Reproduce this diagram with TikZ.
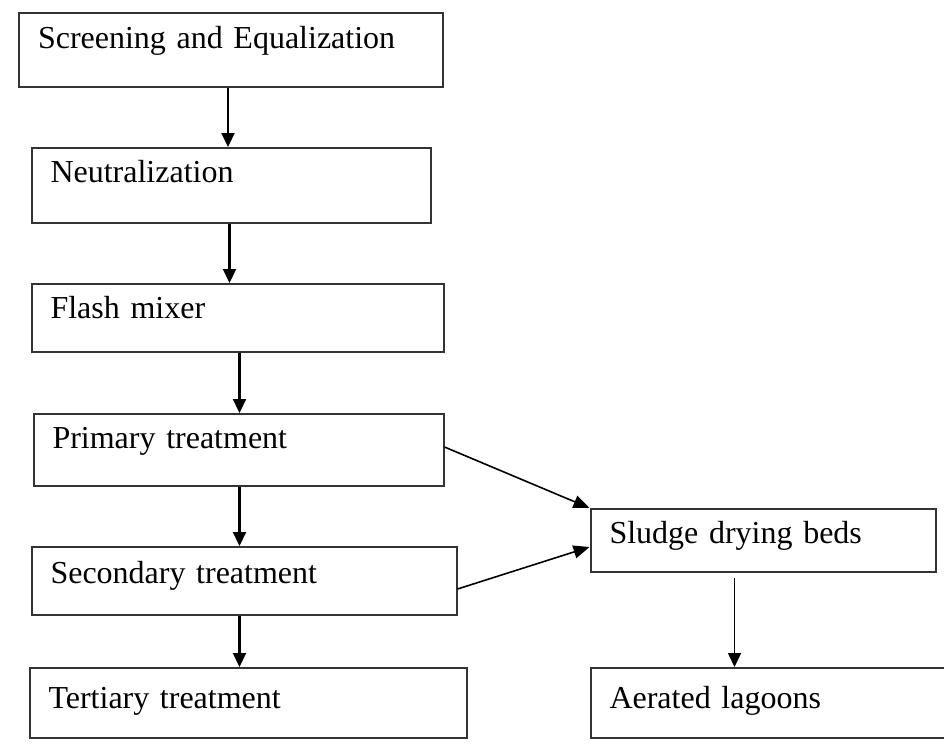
\documentclass[tikz,border=0pt]{standalone}
\usepackage{fontspec}
\setmainfont{Liberation Serif}
\usetikzlibrary{positioning,arrows.meta}
\newcommand{\stagefont}{\fontsize{32}{36}\selectfont\spaceskip=4.5pt\relax}
\tikzset{
  stage/.style={
    draw=black!80,
    line width=2pt,
    rectangle,
    align=left,
    inner xsep=19pt,
    inner ysep=0pt,
    font=\stagefont
  },
  flow/.style={
    line width=2.2pt,
    -{Triangle[length=14pt,width=13pt]}
  },
  sideflow/.style={
    line width=1.6pt,
    -{Triangle[length=16pt,width=13pt]}
  }
}

\begin{document}
\begin{tikzpicture}[x=1pt,y=1pt]
        \useasboundingbox (0,0) rectangle (944,-744);
        \node [stage, text width=386pt, text height=35pt, text depth=39pt] (Screen) at (231,-50) {Screening and Equalization};
        \node [stage, on grid, below=135.5pt of Screen, text width=361pt, text height=34pt, text depth=41pt] (Neutral) {Neutralization};
        \node [stage, on grid, below right=132.5pt and 6.5pt of Neutral, text width=374pt, text height=34pt, text depth=34pt] (Flash) {Flash mixer};
        \node [stage, on grid, below right=132pt and 1pt of Flash, text width=372pt, text height=34pt, text depth=38pt] (Primary) {Primary treatment};
        \node [stage, on grid, below right=131pt and 5.5pt of Primary, text width=387pt, text height=36pt, text depth=32pt] (Secondary) {Secondary treatment};
        \node [stage, on grid, below right=122pt and 4pt of Secondary, text width=399pt, text height=40pt, text depth=30pt] (Tertiary) {Tertiary treatment};
        \node [stage, on grid, below right=90.5pt and 524.5pt of Primary, text width=307pt, text height=34pt, text depth=29pt] (Sludge) {Sludge drying beds};
        \node [stage, on grid, below right=162.5pt and 7.5pt of Sludge, text width=322pt, text height=40pt, text depth=30pt] (Lagoon) {Aerated lagoons};

        \draw [flow] ([xshift=-3pt]Screen.south) to ([xshift=-3pt]Screen.south |- Neutral.north);
        \draw [flow] ([xshift=-1.5pt]Neutral.south) to ([xshift=-1.5pt]Neutral.south |- Flash.north);
        \draw [flow] ([xshift=2pt]Flash.south) to ([xshift=2pt]Flash.south |- Primary.north);
        \draw [flow] ([xshift=1pt]Primary.south) to ([xshift=1pt]Primary.south |- Secondary.north);
        \draw [flow] ([xshift=1pt]Primary.south |- Secondary.south) to ([xshift=1pt]Primary.south |- Tertiary.north);
        \draw [sideflow] ([yshift=3pt]Primary.east) to (Sludge.north west);
        \draw [sideflow] ([yshift=-8pt]Secondary.east) to ([yshift=-6.5pt]Sludge.west);
        \draw [flow, line width=1.6pt] ([xshift=-28.5pt,yshift=-5pt]Sludge.south) to ([xshift=-28.5pt]Sludge.south |- Lagoon.north);
      \end{tikzpicture}
\end{document}
